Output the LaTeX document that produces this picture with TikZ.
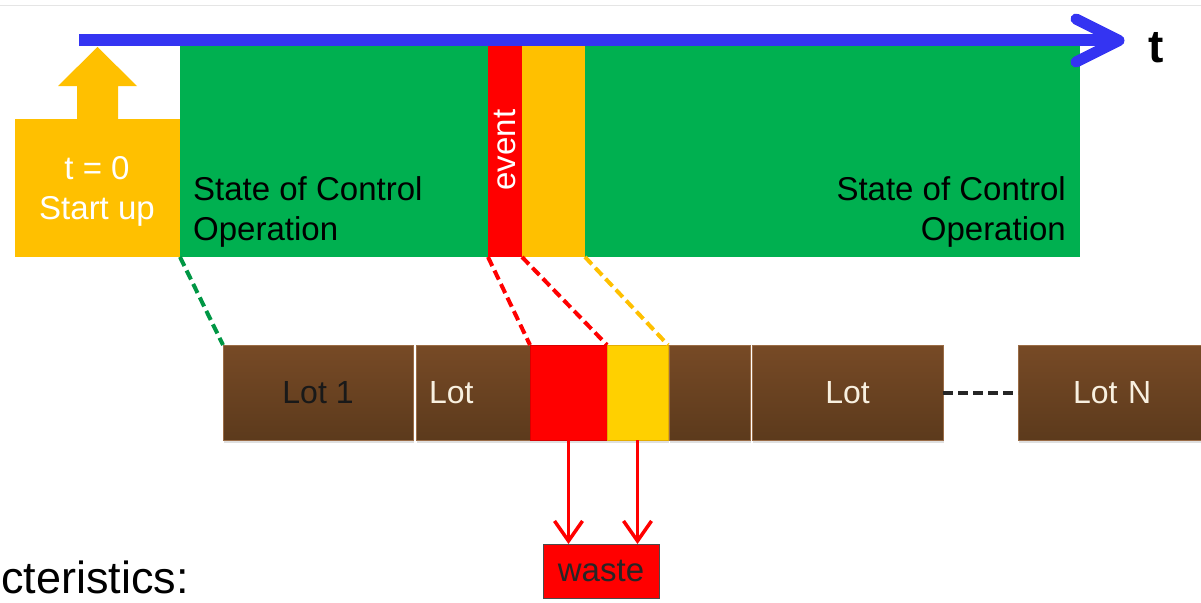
\documentclass[tikz,border=0pt]{standalone}
\usepackage{fontspec}
\setmainfont{Liberation Sans}
\usetikzlibrary{arrows.meta,shadows}
\definecolor{cgreen}{HTML}{00B050}
\definecolor{cyellow}{HTML}{FFC000}
\definecolor{cred}{HTML}{FF0000}
\definecolor{cblue}{HTML}{3434F2}
\definecolor{browntop}{HTML}{774A26}
\definecolor{brownbot}{HTML}{5C3A1C}
\definecolor{brownedge}{HTML}{9A6C46}
\definecolor{lotwhite}{HTML}{F8F0E0}
\tikzset{
  x=1pt, y=-1pt,
  box/.style={inner sep=0pt, outer sep=0pt, anchor=north west},
  lotbox/.style={box, minimum height=95pt, top color=browntop, bottom color=brownbot,
    draw=brownedge, line width=0.8pt,
    drop shadow={opacity=0.25, shadow xshift=1pt, shadow yshift=-3pt},
    text=lotwhite, font=\fontsize{32}{38}\selectfont},
  txt/.style={font=\fontsize{33}{40}\selectfont, align=left, inner sep=0pt},
  dashline/.style={line width=4pt, dash pattern=on 10pt off 5pt},
  wastearrow/.style={draw=cred, line width=3.5pt, -{Straight Barb[length=20pt,width=28pt,line width=3.5pt]}},
}
\begin{document}
\begin{tikzpicture}
\useasboundingbox (0,0) rectangle (1201,602);
\clip (0,0) rectangle (1201,602);
% faint top rule
\draw[black!10, line width=1pt] (0,6) -- (1201,6);
% green operation band
\node[box, fill=cgreen, minimum width=900pt, minimum height=211pt] (green) at (180,46) {};
\node[box, fill=cred, minimum width=34pt, minimum height=211pt] (redband) at (488,46) {};
\node[box, fill=cyellow, minimum width=63pt, minimum height=211pt] (yelband) at (522,46) {};
\node[txt, rotate=90, text=white] (event) at (505,150) {event};
\node[txt, anchor=west] (soc1) at (193,212) {State of Control\\Operation};
\node[txt, anchor=east, align=right] (soc2) at (1066,212) {State of Control\\Operation};
% start-up box and up arrow
\node[box, fill=cyellow, minimum width=165pt, minimum height=138pt] (start) at (15,119) {};
\fill[cyellow] (77,120) -- (77,86) -- (58,86) -- (97.5,47) -- (137,86) -- (118,86) -- (118,120) -- cycle;
\node[txt, text=white, align=center] (startlbl) at (97,191) {t = 0\\Start up};
% time axis
\coordinate (axs) at (79,40.5);
\coordinate (axe) at (1116,40.5);
\draw[cblue, line width=12pt] (axs) -- (axe);
\draw[cblue, line width=11pt, line cap=round, line join=round] (1076,19) -- (1119,40.5) -- (1076,62);
\node[font=\fontsize{46}{50}\selectfont\bfseries, inner sep=0pt] (tlbl) at (1156,48) {t};
% lots row
\node[lotbox, minimum width=190pt, text=black!90] (lot1) at (223,345) {Lot 1};
\node[lotbox, minimum width=114pt, text width=88pt, inner xsep=13pt, align=left] (lot2) at (416,345) {Lot};
\node[box, minimum width=77pt, minimum height=95pt, fill=cred, draw=red!85!black, line width=0.8pt,
      drop shadow={opacity=0.25, shadow xshift=1pt, shadow yshift=-3pt}] (redlot) at (530,345) {};
\node[box, minimum width=61pt, minimum height=95pt, fill=cyellow!75!yellow, draw=cyellow!90!black, line width=0.8pt,
      drop shadow={opacity=0.25, shadow xshift=1pt, shadow yshift=-3pt}] (yellot) at (607,345) {};
\node[lotbox, minimum width=81pt] (lot3) at (669,345) {};
\node[lotbox, minimum width=191pt] (lot4) at (752,345) {Lot};
\node[lotbox, minimum width=210pt, text width=184pt, inner xsep=13pt, align=left] (lotN) at (1018,345) {\hspace*{42pt}Lot N};
% dashed mapping lines
\draw[dashline, cgreen!85!black] (green.south west) -- (lot1.north west);
\draw[dashline, cred] (redband.south west) -- (redlot.north west);
\draw[dashline, cred] (redband.south east) -- (redlot.north east);
\draw[dashline, cyellow] (yelband.south east) -- (yellot.north east);
\draw[line width=4pt, dash pattern=on 10pt off 5pt, black!85] (lot4.east) -- (lotN.west);
% waste
\node[box, fill=cred, draw=black!70, line width=1pt, minimum width=116pt, minimum height=54pt] (waste) at (543,544) {};
\node[font=\fontsize{33}{38}\selectfont, inner sep=0pt, text=black!85] (wastelbl) at (waste.center) {waste};
\draw[wastearrow] (redlot.south) -- (redlot.south |- waste.north);
\draw[wastearrow] (yellot.south) -- (yellot.south |- waste.north);
% cut-off caption
\node[font=\fontsize{45}{50}\selectfont, inner sep=0pt, anchor=base west] (caption) at (1,593) {cteristics:};
\end{tikzpicture}
\end{document}
